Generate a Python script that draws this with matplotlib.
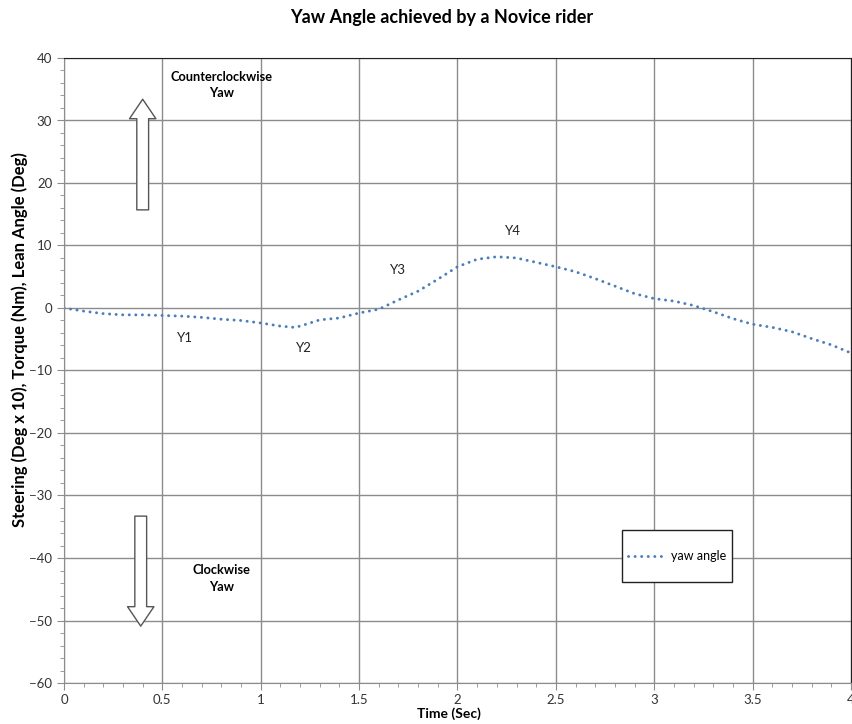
import matplotlib
matplotlib.use("Agg")
import matplotlib.pyplot as plt
from matplotlib.patches import FancyArrowPatch, Rectangle
from matplotlib.ticker import MultipleLocator

plt.rcParams['font.family'] = ['Lato', 'DejaVu Sans']

# Data
time_s = [0.0, 0.1, 0.2, 0.3, 0.4, 0.5, 0.6, 0.7, 0.8, 0.9,
          1.0, 1.1, 1.17, 1.2, 1.3, 1.4, 1.5, 1.6, 1.7, 1.8, 1.9,
          2.0, 2.1, 2.2, 2.3, 2.4, 2.5, 2.6, 2.7, 2.8, 2.9,
          3.0, 3.1, 3.2, 3.3, 3.4, 3.5, 3.6, 3.7, 3.8, 3.9, 4.0]
yaw_angle = [0.0, -0.5, -0.9, -1.1, -1.1, -1.2, -1.3, -1.5, -1.8, -2.0,
             -2.4, -2.9, -3.1, -2.9, -1.9, -1.6, -0.8, -0.2, 1.3, 2.7, 4.6,
             6.6, 7.8, 8.2, 8.0, 7.3, 6.6, 5.8, 4.7, 3.5, 2.3,
             1.5, 1.1, 0.4, -0.6, -1.7, -2.6, -3.1, -3.8, -4.9, -5.9, -7.2]

point_labels = ["Y1", "Y2", "Y3", "Y4"]
label_t = [0.615, 1.22, 1.70, 2.28]
label_y = [-4.8, -6.4, 6.1, 12.3]

x_ticks = [0, 0.5, 1, 1.5, 2, 2.5, 3, 3.5, 4]
x_tick_labels = ["0", "0.5", "1", "1.5", "2", "2.5", "3", "3.5", "4"]
y_ticks = [-60, -50, -40, -30, -20, -10, 0, 10, 20, 30, 40]

fig = plt.figure(figsize=(8.53, 7.24), dpi=100)
ax = fig.add_axes([64/853, 1-683/724, (851-64)/853, (683-58)/724])

ax.plot(time_s, yaw_angle, color='#4a7ebb', linewidth=2.1,
        linestyle=(0, (0.05, 2.2)), dash_capstyle='round', label='yaw angle')

ax.set_xlim(0, 4)
ax.set_ylim(-60, 40)
ax.set_xticks(x_ticks)
ax.set_xticklabels(x_tick_labels)
ax.set_yticks(y_ticks)
ax.xaxis.set_minor_locator(MultipleLocator(0.1))
ax.yaxis.set_minor_locator(MultipleLocator(2))
ax.grid(True, which='major', color='#8c8c8c', linewidth=1.0)
ax.tick_params(which='major', direction='out', length=5, color='#8c8c8c',
               labelsize=9.5, labelcolor='#333333')
ax.tick_params(which='minor', direction='out', length=3, color='#8c8c8c')
ax.tick_params(axis='x', pad=3)
for s in ['left', 'bottom']:
    ax.spines[s].set_color('#8c8c8c')
for s in ['top', 'right']:
    ax.spines[s].set_color('#222222')
ax.set_axisbelow(True)

fig.text(442/853, 1-18/724, "Yaw Angle achieved by a Novice rider", fontsize=13,
         fontweight='bold', ha='center', va='center')
ax.set_xlabel("Time (Sec)", fontsize=10, fontweight='bold', va='center')
ax.xaxis.set_label_coords((449-64)/787, (683-714)/625)
ax.set_ylabel("Steering (Deg x 10), Torque (Nm), Lean Angle (Deg)",
              fontsize=12, fontweight='bold', va='center')
ax.yaxis.set_label_coords((20-64)/787, (683-340)/625)

for lab, tx, ty in zip(point_labels, label_t, label_y):
    ax.text(tx, ty, lab, fontsize=9.5, ha='center', va='center', color='#222222')

ax.text(0.80, 35.7, "Counterclockwise\nYaw", fontsize=9.2, fontweight='bold',
        ha='center', va='center', linespacing=1.45)
ax.text(0.80, -43.3, "Clockwise\nYaw", fontsize=9.2, fontweight='bold',
        ha='center', va='center', linespacing=1.45)

style = 'simple,head_length=1.4,head_width=1.9,tail_width=0.85'
up = FancyArrowPatch((0.40, 15.7), (0.40, 33.4), arrowstyle=style,
                     mutation_scale=10, facecolor='white', edgecolor='#555555',
                     linewidth=1.0, shrinkA=0, shrinkB=0, zorder=5)
down = FancyArrowPatch((0.39, -33.3), (0.39, -50.9), arrowstyle=style,
                       mutation_scale=10, facecolor='white', edgecolor='#555555',
                       linewidth=1.0, shrinkA=0, shrinkB=0, zorder=5)
ax.add_patch(up)
ax.add_patch(down)

box = Rectangle(((622-64)/787, (683-582)/625), 110/787, 52/625,
                transform=ax.transAxes, facecolor='white', edgecolor='#222222',
                linewidth=1.0, zorder=6)
ax.add_patch(box)
leg = ax.legend(loc='center', bbox_to_anchor=((677-64)/787, (683-556)/625),
                fontsize=9, frameon=False, handlelength=2.9, borderpad=0.2,
                handletextpad=0.6)
leg.set_zorder(7)

fig.savefig("out.png", dpi=100)
